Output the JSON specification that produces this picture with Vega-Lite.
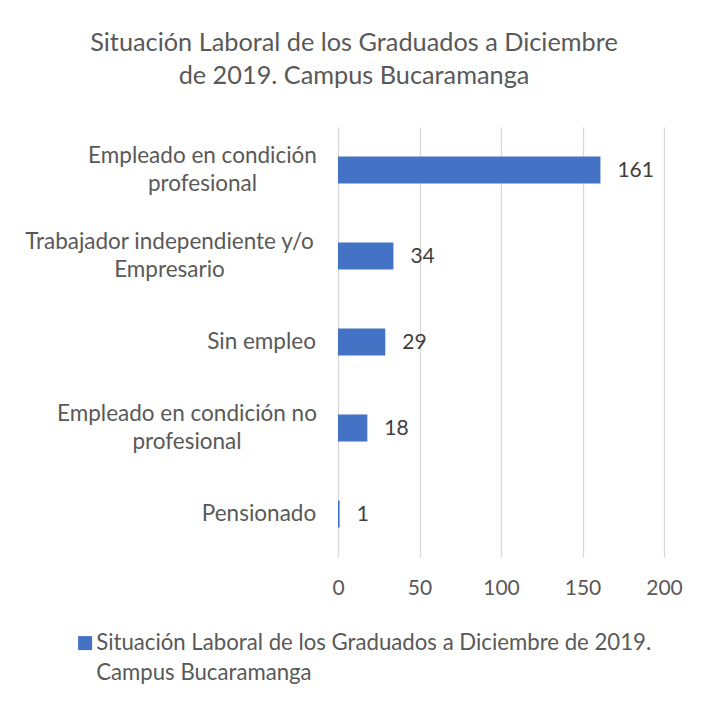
{
  "$schema": "https://vega.github.io/schema/vega-lite/v6.json",
  "autosize": "none",
  "width": 326,
  "height": 430,
  "padding": {"left": 338, "top": 127, "right": 40, "bottom": 149},
  "background": "white",
  "config": {
    "font": "Lato",
    "view": {"stroke": null},
    "style": {"guide-label": {"lineHeight": 30}}
  },
  "title": {
    "text": ["Situación Laboral de los Graduados a Diciembre", "de 2019. Campus Bucaramanga"],
    "fontSize": 25.3,
    "fontWeight": "normal",
    "color": "#595959",
    "anchor": "middle",
    "dx": -147,
    "offset": 38,
    "lineHeight": 33
  },
  "data": {
    "values": [
      {"categoria": "Empleado en condición profesional", "graduados": 161, "serie": "Situación Laboral de los Graduados a Diciembre de 2019. Campus Bucaramanga"},
      {"categoria": "Trabajador independiente y/o Empresario", "graduados": 34, "serie": "Situación Laboral de los Graduados a Diciembre de 2019. Campus Bucaramanga"},
      {"categoria": "Sin empleo", "graduados": 29, "serie": "Situación Laboral de los Graduados a Diciembre de 2019. Campus Bucaramanga"},
      {"categoria": "Empleado en condición no profesional", "graduados": 18, "serie": "Situación Laboral de los Graduados a Diciembre de 2019. Campus Bucaramanga"},
      {"categoria": "Pensionado", "graduados": 1, "serie": "Situación Laboral de los Graduados a Diciembre de 2019. Campus Bucaramanga"}
    ]
  },
  "encoding": {
    "y": {
      "field": "categoria",
      "type": "nominal",
      "sort": null,
      "scale": {"paddingInner": 0.686, "paddingOuter": 0.343},
      "axis": {
        "title": null,
        "domain": false,
        "ticks": false,
        "grid": false,
        "labelFontSize": 22.5,
        "labelColor": "#595959",
        "labelLimit": 400,
        "labelLineHeight": 28,
        "labelAlign": "center",
        "labelPadding": {
          "condition": [
            {"test": "datum.value == 'Empleado en condición profesional'", "value": 136},
            {"test": "datum.value == 'Trabajador independiente y/o Empresario'", "value": 169},
            {"test": "datum.value == 'Sin empleo'", "value": 77},
            {"test": "datum.value == 'Empleado en condición no profesional'", "value": 151.5}
          ],
          "value": 79.5
        },
        "labelOffset": {
          "condition": {"test": "datum.value == 'Empleado en condición profesional' || datum.value == 'Trabajador independiente y/o Empresario' || datum.value == 'Empleado en condición no profesional'", "value": -14},
          "value": 0
        },
        "labelExpr": "datum.label == 'Empleado en condición profesional' ? ['Empleado en condición', 'profesional'] : datum.label == 'Trabajador independiente y/o Empresario' ? ['Trabajador independiente y/o', 'Empresario'] : datum.label == 'Empleado en condición no profesional' ? ['Empleado en condición no', 'profesional'] : datum.label"
      }
    },
    "x": {
      "field": "graduados",
      "type": "quantitative",
      "scale": {"domain": [0, 200], "nice": false},
      "axis": {
        "title": null,
        "values": [0, 50, 100, 150, 200],
        "domain": false,
        "ticks": false,
        "grid": true,
        "gridColor": "#d9d9d9",
        "gridWidth": 1.3,
        "labelFlush": false,
        "labelFontSize": 21,
        "labelColor": "#595959",
        "labelPadding": 20
      }
    }
  },
  "layer": [
    {
      "mark": {"type": "bar"},
      "encoding": {
        "color": {
          "field": "serie",
          "type": "nominal",
          "scale": {"range": ["#4472C4"]},
          "legend": {
            "title": null,
            "orient": "none",
            "legendX": -264,
            "legendY": 505,
            "padding": 0,
            "symbolType": "square",
            "symbolSize": 196,
            "symbolStrokeWidth": 0,
            "symbolOpacity": 1,
            "labelFontSize": 22.2,
            "labelColor": "#595959",
            "labelLimit": 700,
            "labelOffset": 0,
            "labelExpr": "['Situación Laboral de los Graduados a Diciembre de 2019.', 'Campus Bucaramanga']"
          }
        }
      }
    },
    {
      "mark": {"type": "text", "align": "left", "baseline": "middle", "dx": 17, "dy": 1, "fontSize": 21, "color": "#404040"},
      "encoding": {
        "text": {"field": "graduados", "type": "quantitative"}
      }
    }
  ]
}
